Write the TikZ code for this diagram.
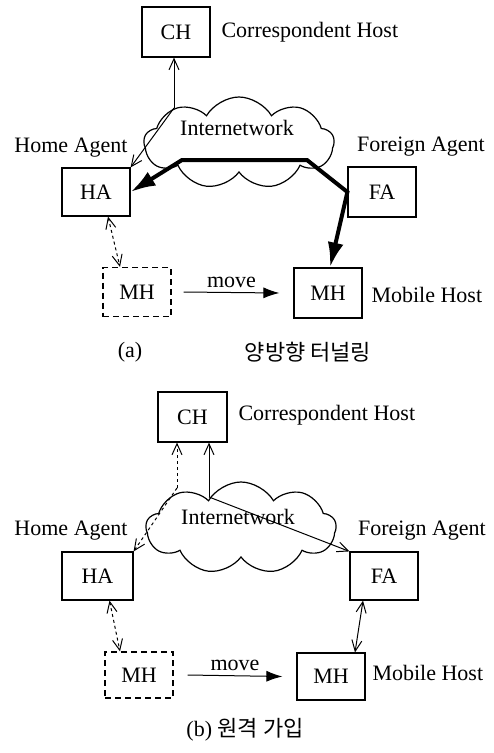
\documentclass[tikz,border=0pt]{standalone}
\usepackage{fontspec}
\setmainfont{Liberation Serif}
\newfontfamily\krfont{Noto Sans CJK KR}
\usetikzlibrary{shapes.symbols,arrows.meta}

\tikzset{
  every node/.style={font=\fontsize{22}{26}\selectfont},
  host/.style={draw, line width=1.2pt, minimum width=68pt, minimum height=50pt, inner sep=0pt},
  oldhost/.style={host, dash pattern=on 6pt off 4pt},
  netcloud/.style={cloud, draw, line width=1.2pt, cloud puffs=9, cloud puff arc=120,
    aspect=2.1, minimum width=190pt, minimum height=92pt, inner sep=0pt},
  sig/.style={line width=1pt, -{Straight Barb[length=11pt,width=10pt]}},
  sigboth/.style={line width=1pt, {Straight Barb[length=11pt,width=10pt]}-{Straight Barb[length=11pt,width=10pt]}},
  tunnel/.style={line width=4pt, line join=miter,
    {Latex[length=25pt,width=16pt]}-{Latex[length=25pt,width=16pt]}},
  movearrow/.style={line width=1pt, -{Latex[length=16pt,width=11pt]}}
}

\begin{document}
\begin{tikzpicture}[x=1pt,y=-1pt]
    \useasboundingbox (0,0) rectangle (494,753);

    %----------------------------------------
    % (a) bidirectional tunnelling
    %----------------------------------------
    \node[netcloud] (net_a) at (239,143) {};
    \node (inet_a) at (237,128) {Internetwork};

    \node[host] (CH_a) at (176,32) {CH};
    \node[anchor=west] (chlab_a) at (218,32) {Correspondent Host};

    \node[host, minimum height=48pt] (HA_a) at (96,192) {HA};
    \node (halab_a) at (71,148) {Home Agent};

    \node[host] (FA_a) at (382,192) {FA};
    \node (falab_a) at (421,147) {Foreign Agent};

    \node[oldhost, minimum height=49pt] (MHold_a) at (137,292) {MH};
    \node[host] (MH_a) at (328,293) {MH};
    \node[anchor=west] (mhlab_a) at (368,295) {Mobile Host};

    % CH -> HA over the net
    \coordinate (up_a) at (174,108);
    \draw[sig] (up_a) -- (up_a |- CH_a.south);
    \draw[sig] (up_a) -- (HA_a.north east);

    % tunnel HA <-> FA -> MH
    \coordinate (tl_a) at (182,160);
    \coordinate (tr_a) at (307,160);
    \draw[tunnel] (HA_a.east) -- (tl_a) -- (tr_a) -- (FA_a.west) -- ([xshift=2pt]MH_a.north);

    % old MH
    \draw[sigboth, dashed] ([xshift=12pt]HA_a.south) -- ([xshift=-17pt]MHold_a.north);
    \draw[movearrow] ([xshift=12pt]MHold_a.east) -- ([xshift=-14pt]MH_a.west)
      node[midway, above=1pt] (move_a) {move};

    \node (cap_a) at (130,352) {(a)};
    \node (capkr_a) at (308,352) {\krfont 양방향 터널링};

    %----------------------------------------
    % (b) remote registration
    %----------------------------------------
    \node[netcloud] (net_b) at (241,528) {};
    \node (inet_b) at (238,517) {Internetwork};

    \node[host, minimum width=69pt] (CH_b) at (192.5,417) {CH};
    \node[anchor=west] (chlab_b) at (235,415) {Correspondent Host};

    \node[host, minimum width=71pt, minimum height=48pt] (HA_b) at (97.5,576) {HA};
    \node (halab_b) at (71,531) {Home Agent};

    \node[host, minimum height=48pt] (FA_b) at (384,576) {FA};
    \node (falab_b) at (422,531) {Foreign Agent};

    \node[oldhost, minimum height=46pt] (MHold_b) at (139,675) {MH};
    \node[host, minimum height=47pt] (MH_b) at (331,676.5) {MH};
    \node[anchor=west] (mhlab_b) at (369,673) {Mobile Host};

    % CH <- HA (dashed) and CH <- FA (solid)
    \coordinate (up_b1) at (177,488);
    \coordinate (up_b2) at (209,497);
    \draw[sig, dashed] (up_b1) -- (up_b1 |- CH_b.south);
    \draw[sig, dashed] (up_b1) -- (HA_b.north east);
    \draw[sig] (up_b2) -- (up_b2 |- CH_b.south);
    \draw[sig] (up_b2) -- (FA_b.north west);

    % MH links
    \draw[sigboth, dashed] ([xshift=12pt]HA_b.south) -- ([xshift=-19pt]MHold_b.north);
    \draw[sigboth] ([xshift=-21pt]FA_b.south) -- ([xshift=24pt]MH_b.north);
    \draw[movearrow] ([xshift=14pt]MHold_b.east) -- ([xshift=-14pt]MH_b.west)
      node[midway, above=1pt] (move_b) {move};

    \node (cap_b) at (245,730) {(b) \krfont 원격 가입};

\end{tikzpicture}
\end{document}
